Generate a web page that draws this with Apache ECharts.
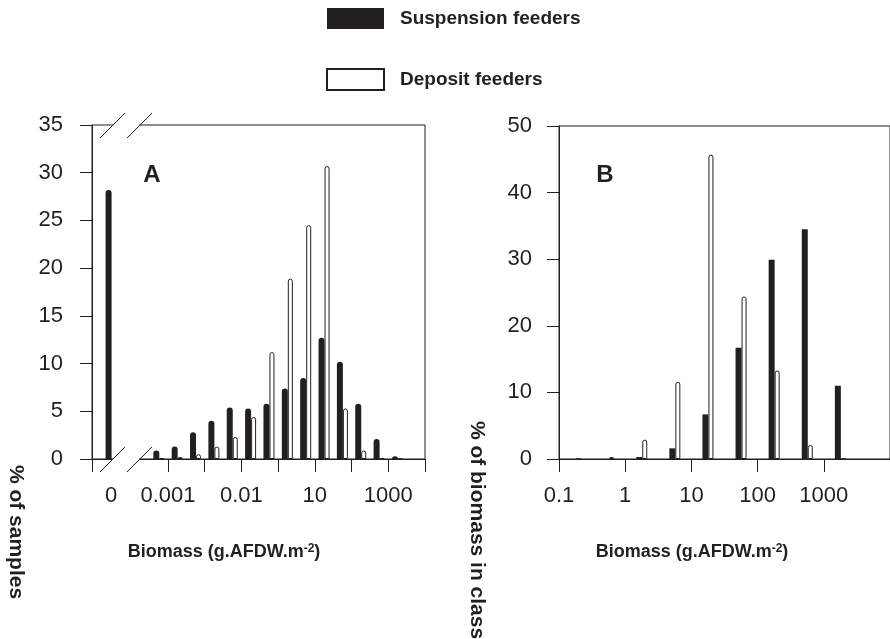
<!DOCTYPE html>
<html>
<head>
<meta charset="utf-8">
<script src="https://cdn.jsdelivr.net/npm/echarts@6/dist/echarts.min.js"></script>
<style>
  html, body { margin: 0; padding: 0; background: #fff; }
  #chart { width: 890px; height: 639px; }
</style>
</head>
<body>
<div id="chart"></div>
<script>
// Panel A - % of samples, classes are half-decades (log10 of lower bound)
const classLogA = [-3.5, -3, -2.5, -2, -1.5, -1, -0.5, 0, 0.5, 1, 1.5, 2, 2.5, 3];
const suspensionA = [0.9, 1.3, 2.8, 4.0, 5.4, 5.3, 5.8, 7.4, 8.5, 12.7, 10.2, 5.8, 2.1, 0.3];
const depositA = [0.1, 0.2, 0.5, 1.3, 2.3, 4.4, 11.2, 18.9, 24.5, 30.7, 5.3, 0.9, 0.05, 0];
// the "0 biomass" class, drawn left of the axis break
const zeroClassA = -4.55;
const zeroSuspensionA = 28.2;
const tickLabelsA = ['0', '0.001', '0.01', '10', '1000'];
const tickLabelPosA = [-4.55, -3, -1, 1, 3];
const tickPosA = [-5.07, -3, -2, -1, 0, 1, 2, 3, 4];

// Panel B - % of biomass in class
const classLogB = [-1, -0.5, 0, 0.5, 1, 1.5, 2, 2.5, 3];
const suspensionB = [0, 0, 0.3, 1.6, 6.7, 16.7, 29.9, 34.5, 11.0];
const depositB = [0, 0.3, 2.9, 11.6, 45.7, 24.4, 13.3, 2.1, 0];
const tickLabelsB = ['0.1', '1', '10', '100', '1000'];

const INK = '#231f20';
const FONT = '"Liberation Sans", Arial, sans-serif';

const chart = echarts.init(document.getElementById('chart'));

// bars sit at the middle of each half-decade class
const toPoints = (logs, vals) => logs.map((l, i) => [l + 0.25, vals[i]]);

const axisLine = { show: true, onZero: false, lineStyle: { color: INK, width: 1 } };
const tickStyle = { color: INK, width: 1 };
const labelStyle = { color: INK, fontSize: 22, fontFamily: FONT };

const blackBar = (radius) => ({ color: INK, borderRadius: radius });
const whiteBar = (radius) => ({ color: '#fff', borderColor: INK, borderWidth: 1, borderRadius: radius });

const option = {
  animation: false,
  backgroundColor: '#fff',
  textStyle: { fontFamily: FONT },
  legend: {
    orient: 'vertical',
    left: 321,
    top: 3,
    itemWidth: 57,
    itemHeight: 21,
    itemGap: 39,
    icon: 'rect',
    selectedMode: false,
    itemStyle: { borderRadius: 0 },
    data: ['Suspension feeders', 'Deposit feeders'],
    textStyle: { fontSize: 19, fontWeight: 'bold', color: INK, fontFamily: FONT, padding: [2, 0, 0, 11] }
  },
  grid: [
    { left: 92, top: 125, width: 333, height: 334, show: true, borderColor: INK, borderWidth: 1 },
    { left: 559, top: 126, width: 333, height: 333, show: true, borderColor: INK, borderWidth: 1 }
  ],
  xAxis: [
    {
      gridIndex: 0, type: 'value', min: -5.07, max: 4,
      axisLine: axisLine,
      axisTick: { show: true, length: 13, customValues: tickPosA, lineStyle: tickStyle },
      axisLabel: Object.assign({
        customValues: tickLabelPosA,
        margin: 26,
        formatter: v => {
          let best = 0;
          tickLabelPosA.forEach((p, i) => { if (Math.abs(p - v) < Math.abs(tickLabelPosA[best] - v)) best = i; });
          return tickLabelsA[best];
        }
      }, labelStyle),
      splitLine: { show: false }
    },
    {
      gridIndex: 1, type: 'value', min: -1, max: 4, interval: 1,
      axisLine: axisLine,
      axisTick: { show: true, length: 13, lineStyle: tickStyle },
      axisLabel: Object.assign({
        margin: 26,
        showMaxLabel: false,
        formatter: v => tickLabelsB[Math.round(v) + 1] || ''
      }, labelStyle),
      splitLine: { show: false }
    }
  ],
  yAxis: [
    {
      gridIndex: 0, type: 'value', min: 0, max: 35, interval: 5,
      axisLine: axisLine,
      axisTick: { show: true, length: 12, lineStyle: tickStyle },
      axisLabel: Object.assign({ margin: 29 }, labelStyle),
      splitLine: { show: false }
    },
    {
      gridIndex: 1, type: 'value', min: 0, max: 50, interval: 10,
      axisLine: axisLine,
      axisTick: { show: true, length: 12, lineStyle: tickStyle },
      axisLabel: Object.assign({ margin: 27 }, labelStyle),
      splitLine: { show: false }
    }
  ],
  series: [
    {
      name: 'Suspension feeders', type: 'bar', xAxisIndex: 0, yAxisIndex: 0,
      barWidth: 6, barGap: 0,
      itemStyle: blackBar([3, 3, 0, 0]),
      data: [[zeroClassA, zeroSuspensionA]].concat(toPoints(classLogA, suspensionA))
    },
    {
      name: 'Deposit feeders', type: 'bar', xAxisIndex: 0, yAxisIndex: 0,
      barWidth: 5, barGap: 0,
      itemStyle: whiteBar([2, 2, 0, 0]),
      data: toPoints(classLogA, depositA)
    },
    {
      name: 'Suspension feeders', type: 'bar', xAxisIndex: 1, yAxisIndex: 1,
      barWidth: 6, barGap: 0,
      itemStyle: blackBar(0),
      data: toPoints(classLogB, suspensionB)
    },
    {
      name: 'Deposit feeders', type: 'bar', xAxisIndex: 1, yAxisIndex: 1,
      barWidth: 5, barGap: 0,
      itemStyle: whiteBar([2, 2, 0, 0]),
      data: toPoints(classLogB, depositB)
    }
  ],
  graphic: [
    // gaps in the frame of panel A for the axis break
    { type: 'rect', z: 100, shape: { x: 113, y: 121, width: 26, height: 8 }, style: { fill: '#fff' } },
    { type: 'rect', z: 100, shape: { x: 113, y: 455, width: 26, height: 8 }, style: { fill: '#fff' } },
    { type: 'line', z: 101, shape: { x1: 100, y1: 138, x2: 125, y2: 113 }, style: { stroke: INK, lineWidth: 1 } },
    { type: 'line', z: 101, shape: { x1: 127, y1: 138, x2: 152, y2: 113 }, style: { stroke: INK, lineWidth: 1 } },
    { type: 'line', z: 101, shape: { x1: 100, y1: 472, x2: 125, y2: 447 }, style: { stroke: INK, lineWidth: 1 } },
    { type: 'line', z: 101, shape: { x1: 127, y1: 472, x2: 152, y2: 447 }, style: { stroke: INK, lineWidth: 1 } },
    // panel letters
    { type: 'text', z: 101, x: 152, y: 175, style: { text: 'A', font: 'bold 24px ' + FONT, fill: INK, align: 'center', verticalAlign: 'middle' } },
    { type: 'text', z: 101, x: 605, y: 175, style: { text: 'B', font: 'bold 24px ' + FONT, fill: INK, align: 'center', verticalAlign: 'middle' } },
    // x axis titles
    {
      type: 'text', z: 101, x: 224, y: 552,
      style: {
        text: '{a|Biomass (g.AFDW.m}{s|-2}{a|)}', align: 'center', verticalAlign: 'middle',
        rich: { a: { fontSize: 18, fontWeight: 'bold', fontFamily: FONT, fill: INK }, s: { fontSize: 12, fontWeight: 'bold', fontFamily: FONT, fill: INK, verticalAlign: 'top' } }
      }
    },
    {
      type: 'text', z: 101, x: 692, y: 552,
      style: {
        text: '{a|Biomass (g.AFDW.m}{s|-2}{a|)}', align: 'center', verticalAlign: 'middle',
        rich: { a: { fontSize: 18, fontWeight: 'bold', fontFamily: FONT, fill: INK }, s: { fontSize: 12, fontWeight: 'bold', fontFamily: FONT, fill: INK, verticalAlign: 'top' } }
      }
    },
    // y axis titles, reading top to bottom
    { type: 'text', z: 101, x: 16, y: 532, rotation: -Math.PI / 2, style: { text: '% of samples', font: 'bold 21px ' + FONT, fill: INK, align: 'center', verticalAlign: 'middle' } },
    { type: 'text', z: 101, x: 477, y: 530, rotation: -Math.PI / 2, style: { text: '% of biomass in class', font: 'bold 21px ' + FONT, fill: INK, align: 'center', verticalAlign: 'middle' } }
  ]
};

chart.setOption(option);
</script>
</body>
</html>
